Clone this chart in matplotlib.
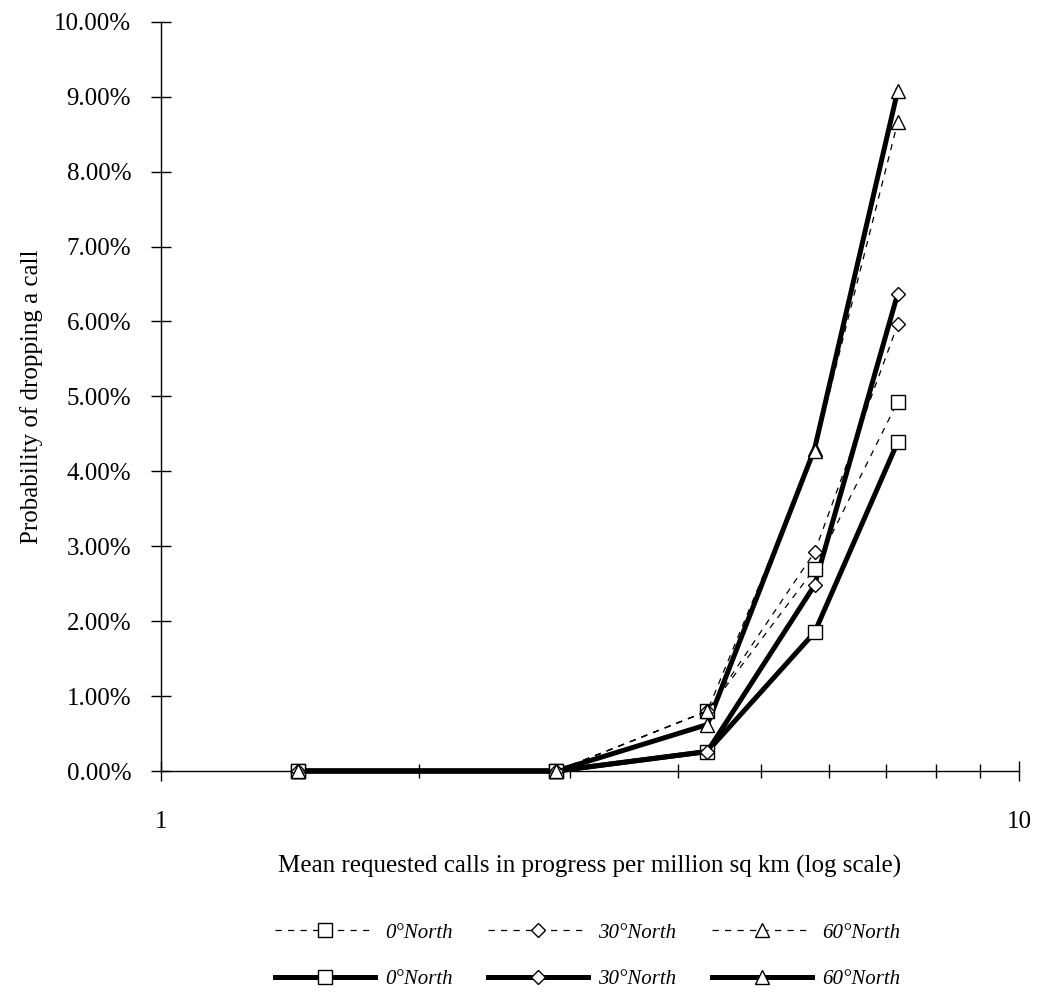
import numpy as np
import matplotlib.pyplot as plt
from matplotlib.ticker import FixedLocator, FuncFormatter, NullFormatter

plt.rcParams['font.family'] = ['Liberation Serif', 'DejaVu Serif']

# Mean requested calls in progress per million sq km
calls = [1.444, 2.889, 4.333, 5.778, 7.222]

# Probability of dropping a call (%), dashed series
dash_0n = [0.0, 0.0, 0.80, 2.70, 4.93]
dash_30n = [0.0, 0.0, 0.80, 2.92, 5.96]
dash_60n = [0.0, 0.0, 0.80, 4.27, 8.66]

# solid series
solid_0n = [0.0, 0.0, 0.26, 1.85, 4.39]
solid_30n = [0.0, 0.0, 0.26, 2.48, 6.37]
solid_60n = [0.0, 0.0, 0.62, 4.30, 9.08]

labels = ['0°North', '30°North', '60°North']
markers = ['s', 'D', '^']
msizes = [9.5, 7.6, 9.5]

fig = plt.figure(figsize=(10.4, 9.96), dpi=100)
ax = fig.add_axes([0.1548, 0.2259, 0.8250, 0.7523])

solid_handles = []
for ys, mk, ms, lab in zip([solid_0n, solid_30n, solid_60n], markers, msizes, labels):
    h, = ax.plot(calls, ys, color='black', lw=3.6, marker=mk, ms=ms,
                 mfc='white', mec='black', mew=1.0, label=lab, zorder=3,
                 clip_on=False)
    solid_handles.append(h)

dash_handles = []
for ys, mk, ms, lab in zip([dash_0n, dash_30n, dash_60n], markers, msizes, labels):
    h, = ax.plot(calls, ys, color='black', lw=0.9, ls=(0, (5, 5)), marker=mk,
                 ms=ms, mfc='white', mec='black', mew=1.0, label=lab, zorder=4,
                 clip_on=False)
    dash_handles.append(h)

ax.set_xscale('log')
ax.set_xlim(1, 10)
ax.set_ylim(0, 10)

ax.xaxis.set_major_locator(FixedLocator([1, 10]))
ax.xaxis.set_minor_locator(FixedLocator([2, 3, 4, 5, 6, 7, 8, 9]))
ax.xaxis.set_major_formatter(FuncFormatter(lambda v, p: f"{v:g}"))
ax.xaxis.set_minor_formatter(NullFormatter())
ax.yaxis.set_major_locator(FixedLocator(np.arange(0, 11, 1)))
ax.yaxis.set_major_formatter(FuncFormatter(lambda v, p: f"{v:.2f}%"))

ax.tick_params(axis='x', which='major', direction='inout', length=15, width=1,
               labelsize=18, pad=21)
ax.tick_params(axis='x', which='minor', direction='inout', length=10, width=1)
ax.tick_params(axis='y', which='major', direction='inout', length=15, width=1,
               labelsize=18, pad=14)

for s in ['top', 'right']:
    ax.spines[s].set_visible(False)
for s in ['left', 'bottom']:
    ax.spines[s].set_linewidth(1.0)

ax.set_xlabel('Mean requested calls in progress per million sq km (log scale)',
              fontsize=18, labelpad=16)
ax.set_ylabel('Probability of dropping a call', fontsize=18, labelpad=8)

handles = []
for d, s in zip(dash_handles, solid_handles):
    handles += [d, s]
fig.legend(handles=handles, labels=[h.get_label() for h in handles],
           ncol=3, loc='center', bbox_to_anchor=(0.565, 0.04),
           frameon=False, numpoints=1, handlelength=4.8, handletextpad=0.5,
           columnspacing=1.7, labelspacing=1.3,
           prop={'family': 'Liberation Serif', 'style': 'italic', 'size': 15})

fig.savefig('out.png', dpi=100)
